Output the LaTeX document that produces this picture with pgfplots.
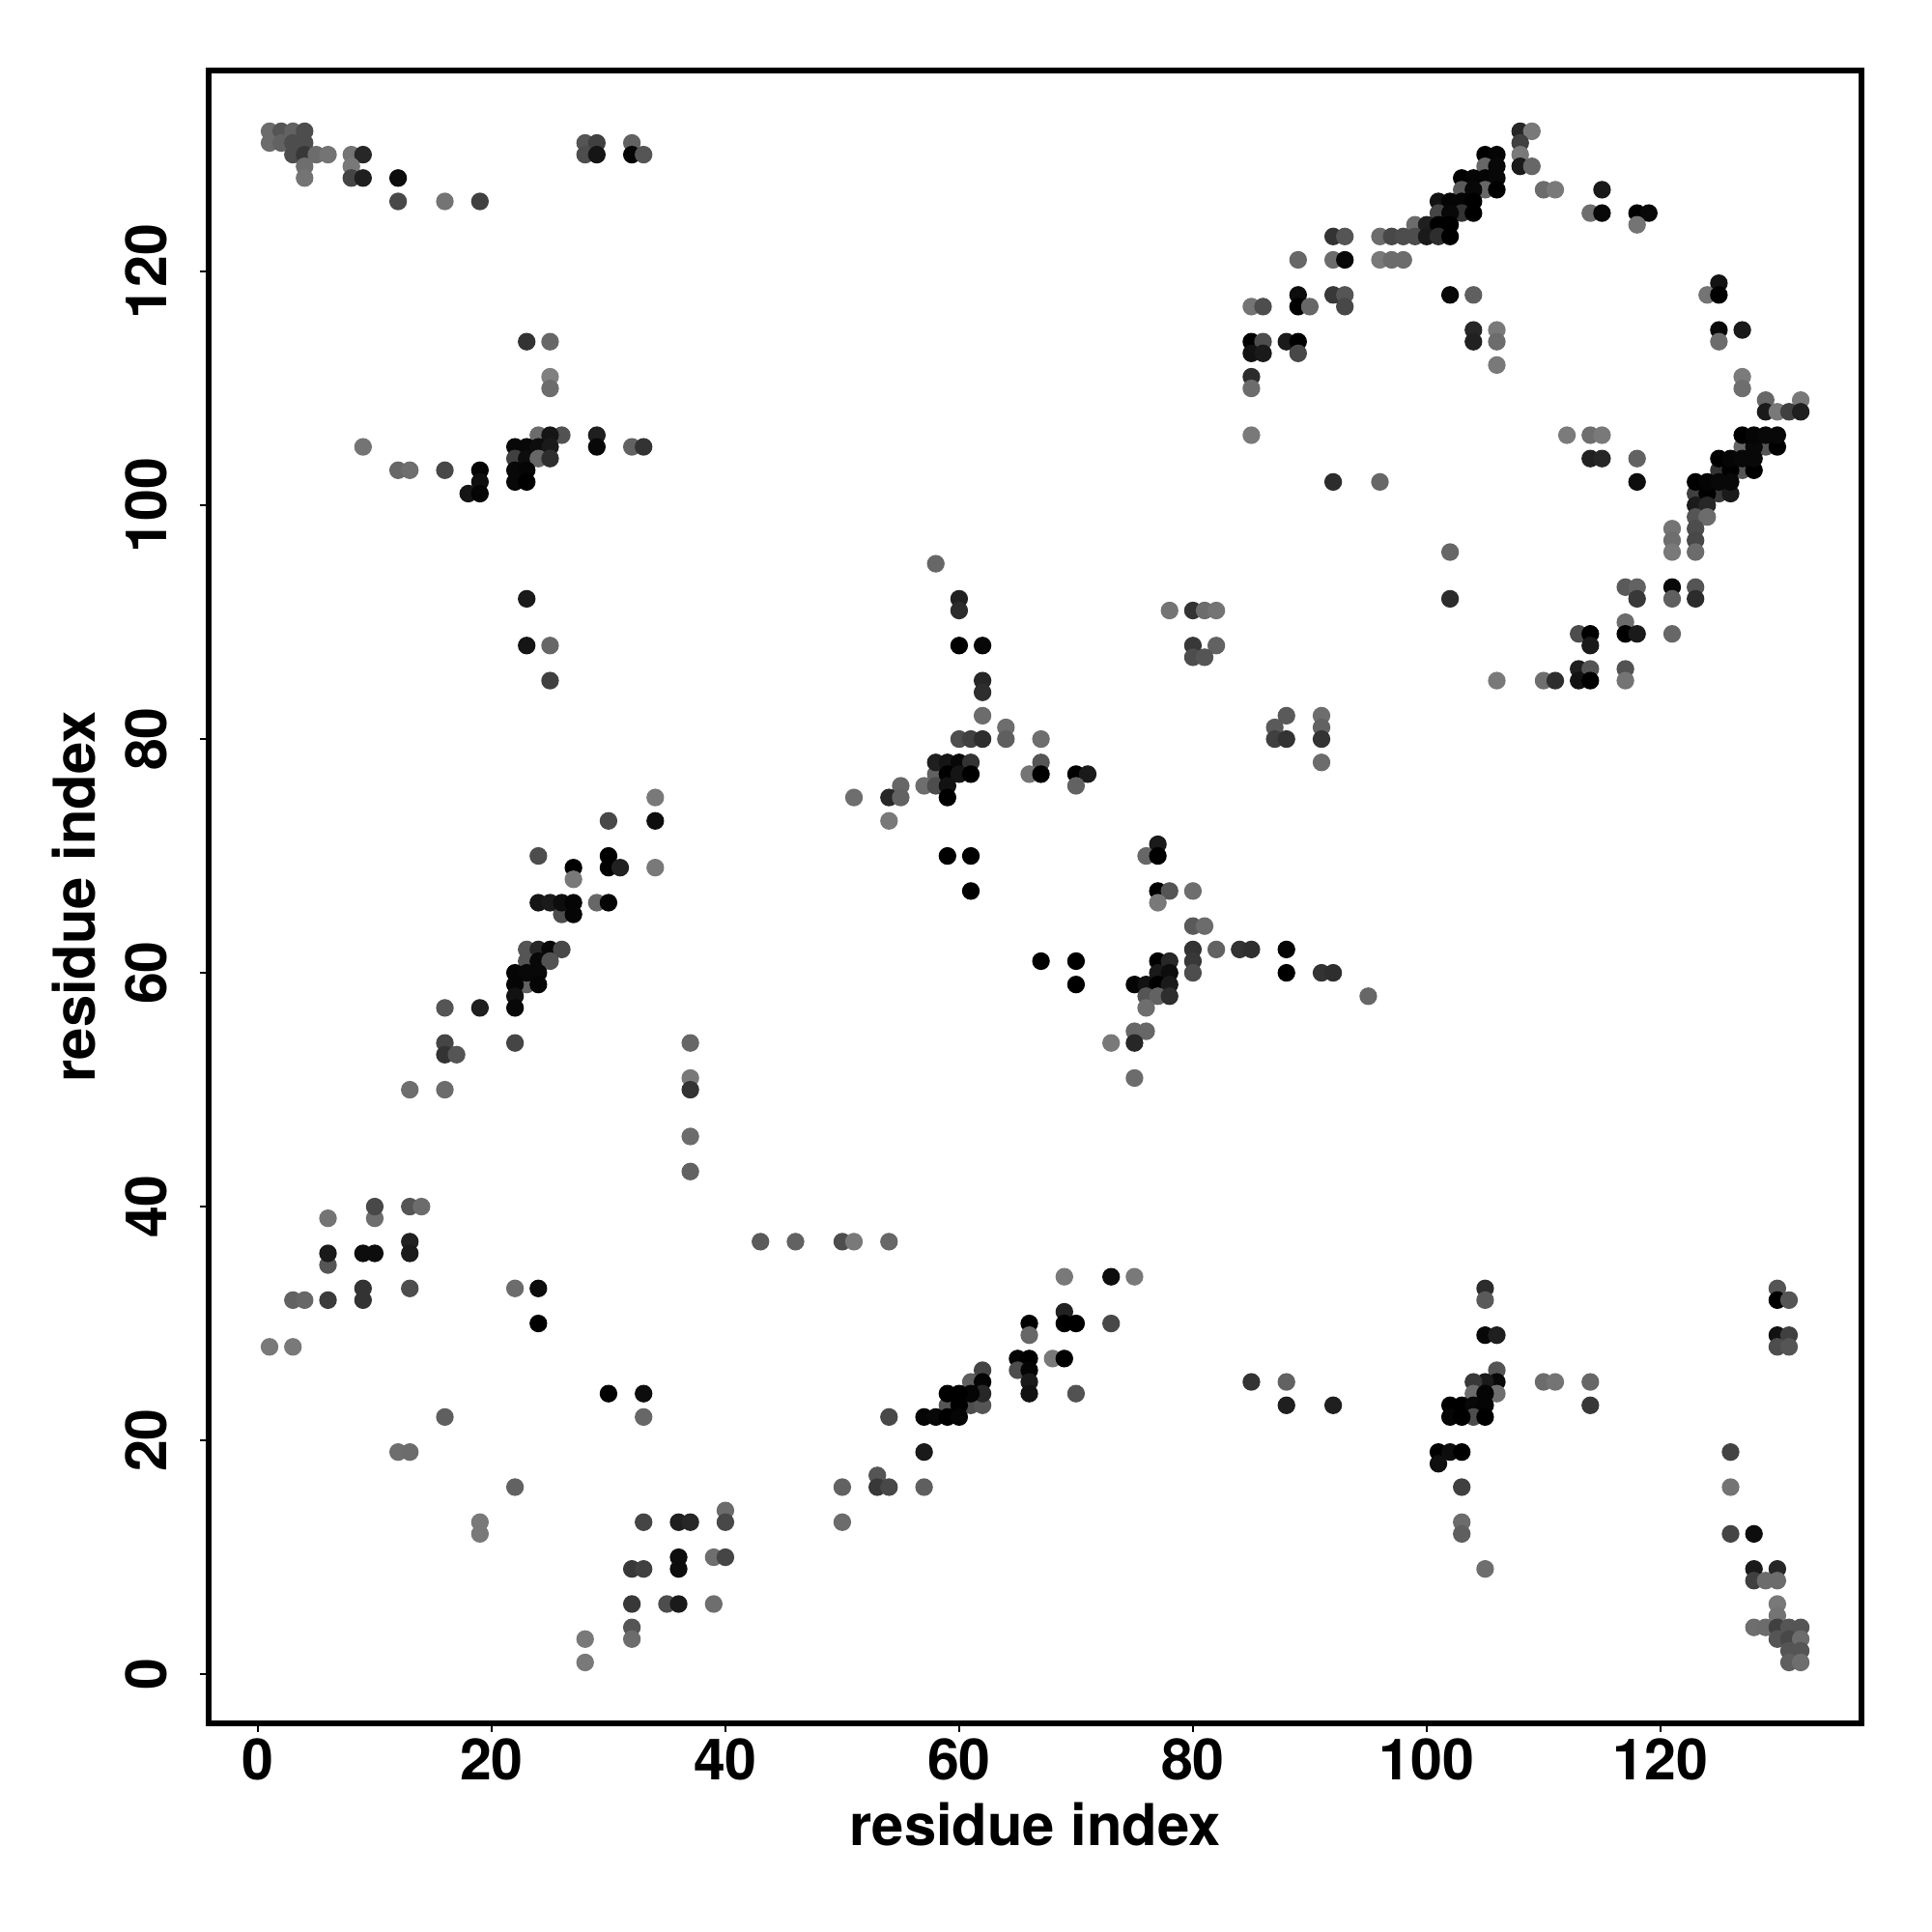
\documentclass[border=0pt]{standalone}
\usepackage{fontspec}
\setmainfont{TeX Gyre Heros}
\usepackage{pgfplots}
\pgfplotsset{compat=1.18}
\begin{document}
\begin{tikzpicture}[x=1cm,y=1cm]
\path[use as bounding box] (0,0) rectangle (20,20);
\begin{axis}[
  at={(2.16cm,2.16cm)}, anchor=south west,
  scale only axis, width=17.11cm, height=17.11cm,
  xmin=-4.21, xmax=137.2, ymin=-4.21, ymax=137.2,
  xtick={0,20,40,60,80,100,120}, ytick={0,20,40,60,80,100,120},
  xtick pos=bottom, ytick pos=left, tick align=outside,
  major tick length=0.09cm,
  every tick/.style={black,line width=0.6pt},
  axis line style={line width=1.85pt},
  /pgf/number format/assume math mode=true,
  tick label style={font=\fontsize{16.8}{20}\selectfont\bfseries},
  xticklabel style={anchor=north,yshift=0.06cm},
  yticklabel style={rotate=90,anchor=south,yshift=0.22cm},
  xlabel={residue index}, ylabel={residue index},
  label style={font=\fontsize{17}{20}\selectfont\bfseries},
  xlabel style={at={(axis description cs:0.5,-0.0613)},anchor=center},
  ylabel style={at={(axis description cs:-0.0815,0.5)},anchor=center,rotate=0},
  colormap={grays}{gray(0cm)=(0); gray(1cm)=(1)},
  point meta=explicit, point meta min=0, point meta max=1,
  clip=false,
]
\addplot[scatter, only marks, mark=*, mark size=2.4pt,
  scatter/use mapped color={draw=mapped color,fill=mapped color}]
  table[row sep=\\, x index=0, y index=1, meta index=2] {
1 132 .42\\ 2 132 .33\\ 3 132 .38\\ 4 132 .3\\ 1 131 .42\\ 2 131 .38\\ 3 131 .3\\ 4 131 .3\\
3 130 .3\\ 4 130 .22\\ 5 130 .42\\ 6 130 .45\\ 8 130 .45\\ 9 130 .15\\ 4 129 .43\\ 8 129 .47\\
4 128 .45\\ 8 128 .27\\ 9 128 .12\\ 12 128 .05\\ 12 126 .28\\ 16 126 .45\\ 19 126 .25\\
28 131 .33\\ 29 131 .25\\ 32 131 .38\\ 28 130 .3\\ 29 130 .08\\ 32 130 .02\\ 33 130 .33\\
23 114 .2\\ 25 114 .4\\ 25 111 .5\\ 25 110 .42\\
24 106 .42\\ 26 106 .32\\ 25 106 .08\\ 29 106 .12\\
9 105 .45\\ 22 105 .03\\ 23 105 .03\\ 24 105 .05\\ 25 105 .1\\ 29 105 .03\\ 32 105 .38\\ 33 105 .2\\
22 104 .25\\ 23 104 .05\\ 24 104 .4\\ 25 104 .18\\
12 103 .4\\ 13 103 .43\\ 16 103 .28\\ 19 103 .02\\ 22 103 .03\\ 23 103 .02\\
19 102 .06\\ 22 102 .03\\ 23 102 .0\\ 18 101 .08\\ 19 101 .02\\
23 92 .1\\ 23 88 .08\\ 25 88 .4\\ 25 85 .25\\
108 132 .15\\ 109 132 .47\\ 108 131 .25\\ 108 130 .47\\ 105 130 .0\\ 106 130 .02\\
105 129 .4\\ 106 129 .03\\ 108 129 .1\\ 109 129 .4\\
103 128 .0\\ 104 128 .02\\ 105 128 .02\\ 106 128 .03\\
103 127 .35\\ 105 127 .4\\ 104 127 .03\\ 106 127 .0\\ 110 127 .42\\ 111 127 .47\\ 115 127 .1\\
101 126 .07\\ 102 126 .02\\ 103 126 .02\\ 104 126 .0\\
101 125 .27\\ 103 125 .2\\ 102 125 .03\\ 104 125 .0\\ 114 125 .43\\ 115 125 .03\\ 118 125 .0\\ 119 125 .03\\
99 124 .42\\ 100 124 .12\\ 101 124 .0\\ 102 124 .0\\ 118 124 .45\\
92 123 .2\\ 93 123 .33\\ 96 123 .42\\ 97 123 .28\\ 98 123 .3\\ 99 123 .3\\ 100 123 .1\\ 101 123 .18\\ 102 123 .0\\
89 121 .4\\ 92 121 .42\\ 93 121 .03\\ 96 121 .47\\ 97 121 .42\\ 98 121 .42\\
89 118 .05\\ 92 118 .22\\ 93 118 .33\\ 102 118 .03\\ 104 118 .37\\
85 117 .45\\ 86 117 .3\\ 89 117 .0\\ 90 117 .4\\ 93 117 .28\\
104 115 .15\\ 106 115 .47\\ 85 114 .0\\ 86 114 .3\\ 88 114 .1\\ 89 114 .0\\ 104 114 .13\\ 106 114 .42\\
85 113 .07\\ 86 113 .1\\ 89 113 .28\\ 106 112 .47\\ 85 111 .17\\ 85 110 .42\\
85 106 .47\\ 112 106 .48\\ 114 106 .43\\ 115 106 .47\\ 114 104 .13\\ 115 104 .15\\ 118 104 .38\\
92 102 .17\\ 96 102 .4\\ 118 102 .05\\
125 119 .07\\ 124 118 .45\\ 125 118 .0\\ 125 115 .03\\ 127 115 .1\\ 125 114 .42\\ 127 111 .48\\ 127 110 .43\\
129 109 .4\\ 132 109 .47\\ 129 108 .1\\ 130 108 .47\\ 131 108 .25\\ 132 108 .12\\
127 105 .4\\ 129 105 .33\\ 128 105 .03\\ 130 105 .0\\ 127 106 .0\\ 128 106 .02\\ 129 106 .03\\ 130 106 .03\\
125 103 .2\\ 127 103 .33\\ 126 103 .0\\ 128 103 .0\\ 125 104 .0\\ 126 104 .02\\ 127 104 .03\\ 128 104 .03\\
123 101 .25\\ 125 101 .22\\ 124 101 .0\\ 126 101 .1\\ 123 102 .0\\ 124 102 .02\\ 125 102 .03\\ 126 102 .03\\
123 100 .1\\ 124 100 .15\\ 123 99 .33\\ 124 99 .42\\ 121 98 .45\\ 123 98 .3\\ 121 97 .43\\ 123 97 .28\\
102 96 .4\\ 121 96 .47\\ 123 96 .42\\ 117 93 .35\\ 118 93 .38\\ 121 93 .03\\ 123 93 .33\\
102 92 .17\\ 118 92 .22\\ 121 92 .37\\ 123 92 .17\\ 117 90 .42\\
113 89 .3\\ 114 89 .0\\ 117 89 .0\\ 118 89 .1\\ 121 89 .4\\ 114 88 .1\\ 113 86 .12\\ 114 86 .33\\ 117 86 .32\\
106 85 .47\\ 110 85 .43\\ 111 85 .18\\ 113 85 .07\\ 114 85 .0\\ 117 85 .45\\
58 95 .4\\ 60 92 .13\\ 60 91 .17\\ 78 91 .45\\ 80 91 .2\\ 81 91 .42\\ 82 91 .45\\
60 88 .0\\ 62 88 .03\\ 80 88 .22\\ 82 88 .38\\ 80 87 .3\\ 81 87 .33\\
62 85 .15\\ 62 84 .18\\ 62 82 .42\\ 64 81 .43\\
60 80 .3\\ 61 80 .25\\ 62 80 .18\\ 64 80 .37\\ 67 80 .43\\
57 76 .43\\ 55 76 .4\\ 58 77 .38\\ 58 76 .3\\ 58 78 .12\\ 59 78 .08\\ 60 78 .03\\ 61 78 .2\\ 67 78 .33\\
59 77 .0\\ 60 77 .08\\ 61 77 .0\\ 66 77 .45\\ 67 77 .0\\ 70 77 .0\\ 71 77 .1\\ 59 76 .07\\ 70 76 .38\\
51 75 .43\\ 54 75 .15\\ 55 75 .38\\ 59 75 .0\\ 54 73 .47\\
77 71 .1\\ 59 70 .0\\ 61 70 .0\\ 76 70 .4\\ 77 70 .0\\
61 67 .0\\ 77 67 .0\\ 78 67 .33\\ 80 67 .43\\ 77 66 .47\\ 80 64 .35\\ 81 64 .42\\
80 62 .2\\ 82 62 .38\\ 84 62 .2\\ 85 62 .18\\ 88 62 .02\\
67 61 .0\\ 70 61 .0\\ 77 61 .0\\ 78 61 .15\\ 80 61 .22\\
77 60 .1\\ 78 60 .05\\ 80 60 .3\\ 88 60 .0\\ 91 60 .2\\ 92 60 .18\\
70 59 .0\\ 75 59 .02\\ 76 59 .07\\ 77 59 .0\\ 78 59 .1\\
76 58 .33\\ 77 58 .38\\ 78 58 .18\\ 95 58 .4\\ 76 57 .43\\ 75 55 .4\\ 76 55 .4\\ 73 54 .47\\ 75 54 .15\\ 75 51 .42\\
87 81 .35\\ 88 82 .35\\ 87 80 .25\\ 88 80 .2\\ 91 82 .43\\ 91 81 .38\\ 91 80 .2\\ 91 78 .42\\
34 75 .47\\ 30 73 .28\\ 34 73 .05\\ 24 70 .3\\ 30 70 .0\\ 27 69 .0\\ 30 69 .0\\ 31 69 .13\\ 34 69 .47\\ 27 68 .47\\
26 65 .3\\ 27 65 .02\\ 24 66 .08\\ 25 66 .1\\ 26 66 .05\\ 27 66 .02\\ 29 66 .4\\ 30 66 .02\\
23 62 .33\\ 24 62 .15\\ 25 62 .03\\ 26 62 .28\\ 23 61 .33\\ 24 61 .03\\ 25 61 .32\\
23 59 .38\\ 22 60 .02\\ 23 60 .03\\ 24 60 .03\\ 22 59 .02\\ 24 59 .02\\ 22 58 .07\\
16 57 .33\\ 19 57 .12\\ 22 57 .03\\ 16 54 .27\\ 22 54 .27\\ 37 54 .4\\ 16 53 .2\\ 17 53 .33\\
37 51 .47\\ 37 50 .2\\ 13 50 .43\\ 16 50 .42\\ 37 46 .42\\ 37 43 .38\\
6 39 .45\\ 10 39 .43\\ 10 40 .28\\ 13 40 .33\\ 14 40 .42\\ 6 35 .33\\ 6 36 .1\\ 9 36 .05\\ 10 36 .05\\ 13 37 .13\\ 13 36 .1\\
9 33 .2\\ 9 32 .2\\ 13 33 .3\\ 3 32 .38\\ 4 32 .4\\ 6 32 .23\\ 1 28 .47\\ 3 28 .47\\
22 33 .42\\ 24 33 .05\\ 24 30 .0\\ 30 24 .0\\ 33 24 .05\\ 33 22 .4\\ 16 22 .37\\ 12 19 .43\\ 13 19 .42\\ 22 16 .38\\ 19 13 .47\\ 19 12 .47\\
40 14 .42\\ 40 13 .28\\ 33 13 .27\\ 36 13 .12\\ 37 13 .15\\ 36 10 .05\\ 36 9 .05\\ 39 10 .43\\ 40 10 .27\\ 32 9 .22\\ 33 9 .25\\
32 6 .22\\ 35 6 .3\\ 36 6 .1\\ 39 6 .43\\ 32 4 .33\\ 32 3 .42\\ 28 3 .47\\ 28 1 .47\\
43 37 .35\\ 46 37 .38\\ 50 37 .3\\ 51 37 .47\\ 54 37 .4\\
69 34 .47\\ 73 34 .05\\ 75 34 .47\\ 69 31 .13\\ 66 30 .0\\ 69 30 .0\\ 70 30 .0\\ 73 30 .28\\ 66 29 .4\\
65 27 .02\\ 66 27 .0\\ 68 27 .47\\ 69 27 .0\\ 65 26 .3\\ 66 26 .02\\ 66 25 .1\\ 66 24 .07\\ 70 24 .32\\
62 26 .27\\ 61 25 .37\\ 62 25 .02\\ 59 23 .33\\ 61 23 .3\\ 62 23 .33\\ 60 23 .0\\ 62 24 .15\\ 61 24 .02\\ 59 24 .0\\ 60 24 .0\\
57 22 .02\\ 58 22 .03\\ 59 22 .0\\ 60 22 .02\\ 54 22 .28\\ 57 19 .1\\ 53 17 .33\\ 53 16 .22\\ 54 16 .28\\ 50 16 .38\\ 57 16 .37\\ 50 13 .42\\
105 33 .17\\ 105 32 .35\\ 105 29 .03\\ 106 29 .12\\ 106 26 .33\\ 106 25 .03\\ 105 25 .1\\ 104 25 .22\\ 104 24 .42\\ 106 24 .43\\ 105 24 .02\\
102 23 .0\\ 103 23 .0\\ 104 23 .03\\ 105 23 .02\\ 104 22 .3\\ 102 22 .02\\ 103 22 .0\\ 105 22 .0\\
101 19 .0\\ 102 19 .05\\ 103 19 .0\\ 101 18 .06\\ 103 16 .25\\ 103 13 .42\\ 103 12 .37\\ 105 9 .43\\
110 25 .42\\ 111 25 .45\\ 114 25 .4\\ 114 23 .22\\ 85 25 .2\\ 88 25 .38\\ 88 23 .12\\ 92 23 .12\\
130 33 .33\\ 130 32 .0\\ 131 32 .33\\ 130 29 .07\\ 131 29 .25\\ 130 28 .3\\ 131 28 .33\\
126 19 .26\\ 126 16 .45\\ 126 12 .27\\ 128 12 .05\\ 128 9 .1\\ 130 9 .15\\ 128 8 .25\\ 129 8 .42\\ 130 8 .42\\ 130 6 .47\\ 130 5 .45\\
128 4 .43\\ 129 4 .42\\ 130 4 .25\\ 131 4 .33\\ 132 4 .33\\ 130 3 .33\\ 131 3 .28\\ 132 3 .42\\ 131 2 .33\\ 132 2 .33\\ 131 1 .37\\ 132 1 .43\\
};
\end{axis}
\end{tikzpicture}
\end{document}
